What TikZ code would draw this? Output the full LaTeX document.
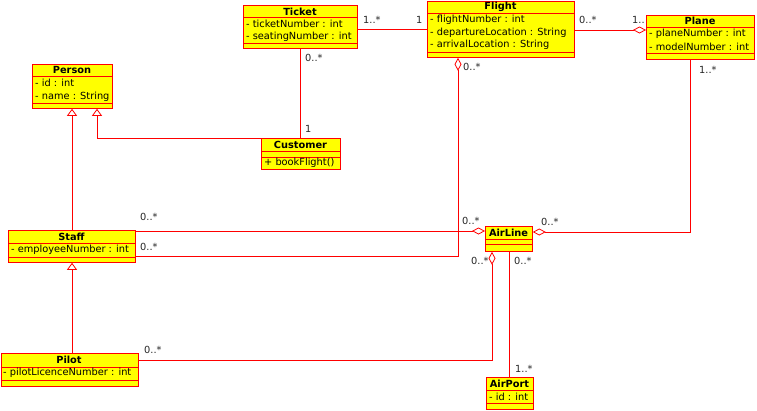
\documentclass[tikz,border=0pt]{standalone}
\usepackage{fontspec}
\setmainfont{DejaVu Sans}
\usetikzlibrary{arrows.meta}
\definecolor{umlred}{HTML}{FF0000}
\definecolor{umlyellow}{HTML}{FFFF00}
\tikzset{
  cls/.style={draw=umlred, fill=umlyellow, line width=0.8pt, inner sep=0pt, anchor=north west},
  div/.style={draw=umlred, line width=0.8pt},
  ttl/.style={font=\fontsize{9.8}{11}\selectfont\bfseries, inner sep=0pt},
  attr/.style={font=\fontsize{9.8}{11}\selectfont, anchor=west, inner sep=0pt},
  mult/.style={font=\fontsize{9.8}{11}\selectfont, anchor=west, inner sep=0pt, text=black!85},
  conn/.style={draw=umlred, line width=0.8pt},
  agg/.style={-{Diamond[open,length=13pt,width=7pt,fill=white]}},
  gen/.style={-{Triangle[open,length=7pt,width=10pt,fill=white]}}
}
\begin{document}
\begin{tikzpicture}[x=1pt,y=-1pt]
\useasboundingbox[fill=white] (0,0) rectangle (757,410);
% Ticket
\node[cls, minimum width=114pt, minimum height=43pt] (ticket) at (243,5) {};
\draw[div] (243,17) -- (357,17); \draw[div] (243,43) -- (357,43);
\node[ttl] (ticketT) at (300,11.5) {Ticket};
\node[attr] (ticketA1) at (246,24) {- ticketNumber : int};
\node[attr] (ticketA2) at (246,37) {- seatingNumber : int};
% Flight
\node[cls, minimum width=147pt, minimum height=56pt] (flight) at (427,1) {};
\draw[div] (427,13) -- (574,13); \draw[div] (427,52) -- (574,52);
\node[ttl] (flightT) at (500.5,7) {Flight};
\node[attr] (flightA1) at (430,20) {- flightNumber : int};
\node[attr] (flightA2) at (430,33) {- departureLocation : String};
\node[attr] (flightA3) at (430,45) {- arrivalLocation : String};
% Plane
\node[cls, minimum width=108pt, minimum height=44pt] (plane) at (646,15) {};
\draw[div] (646,27) -- (754,27); \draw[div] (646,53) -- (754,53);
\node[ttl] (planeT) at (700,21) {Plane};
\node[attr] (planeA1) at (649,34) {- planeNumber : int};
\node[attr] (planeA2) at (649,47) {- modelNumber : int};
% Person
\node[cls, minimum width=80pt, minimum height=44pt] (person) at (32,64) {};
\draw[div] (32,76) -- (112,76); \draw[div] (32,103) -- (112,103);
\node[ttl] (personT) at (72,70) {Person};
\node[attr] (personA1) at (35,83) {- id : int};
\node[attr] (personA2) at (35,97) {- name : String};
% Customer
\node[cls, minimum width=79pt, minimum height=31pt] (customer) at (261,138) {};
\draw[div] (261,151) -- (340,151); \draw[div] (261,157) -- (340,157);
\node[ttl] (customerT) at (300.5,145) {Customer};
\node[attr] (customerM1) at (264,163) {+ bookFlight()};
% Staff
\node[cls, minimum width=127pt, minimum height=32pt] (staff) at (8,230) {};
\draw[div] (8,243) -- (135,243); \draw[div] (8,257) -- (135,257);
\node[ttl] (staffT) at (71.5,236.5) {Staff};
\node[attr] (staffA1) at (11,250) {- employeeNumber : int};
% AirLine
\node[cls, minimum width=47pt, minimum height=25pt] (airline) at (485,226) {};
\draw[div] (485,239) -- (532,239); \draw[div] (485,244) -- (532,244);
\node[ttl] (airlineT) at (508.5,233) {AirLine};
% Pilot
\node[cls, minimum width=137.5pt, minimum height=33pt] (pilot) at (0.5,353) {};
\draw[div] (0.5,367) -- (138,367); \draw[div] (0.5,380) -- (138,380);
\node[ttl] (pilotT) at (69,360) {Pilot};
\node[attr] (pilotA1) at (3,373) {- pilotLicenceNumber : int};
% AirPort
\node[cls, minimum width=47pt, minimum height=32pt] (airport) at (486,377) {};
\draw[div] (486,390) -- (533,390); \draw[div] (486,403) -- (533,403);
\node[ttl] (airportT) at (509.5,383.5) {AirPort};
\node[attr] (airportA1) at (489,396.5) {- id : int};
% Connectors
\draw[conn] (ticket.east |- 0,29) -- (flight.west |- 0,29);
\draw[conn, agg] (flight.east |- 0,30) -- (plane.west |- 0,30);
\draw[conn] (ticket.south -| 300,0) -- (customer.north -| 300,0);
\draw[conn, gen] (customer.north west) -| (person.south -| 97,0);
\draw[conn, gen] (staff.north -| 72,0) -- (person.south -| 72,0);
\draw[conn, gen] (pilot.north -| 72,0) -- (staff.south -| 72,0);
\draw[conn, agg] (staff.east |- 0,231) -- (airline.west |- 0,231);
\draw[conn, agg] (staff.east |- 0,256) -| (flight.south -| 458,0);
\draw[conn, agg] (plane.south -| 690,0) |- (airline.east |- 0,232);
\draw[conn, agg] (pilot.east |- 0,360) -| (airline.south -| 492,0);
\draw[conn] (airline.south -| 509,0) -- (airport.north -| 509,0);
% Multiplicities
\node[mult] (m1) at (363,20) {1..*};
\node[mult] (m2) at (416,20) {1};
\node[mult] (m3) at (305,58) {0..*};
\node[mult] (m4) at (305,129) {1};
\node[mult] (m5) at (579,20) {0..*};
\node[mult] (m6) at (632,20) {1..};
\node[mult] (m7) at (463,67) {0..*};
\node[mult] (m8) at (699,70) {1..*};
\node[mult] (m9) at (140,217) {0..*};
\node[mult] (m10) at (140,247) {0..*};
\node[mult] (m11) at (462,221) {0..*};
\node[mult] (m12) at (541,222) {0..*};
\node[mult] (m13) at (471,261) {0..*};
\node[mult] (m14) at (514,261) {0..*};
\node[mult] (m15) at (144,350) {0..*};
\node[mult] (m16) at (515,369) {1..*};
\end{tikzpicture}
\end{document}
